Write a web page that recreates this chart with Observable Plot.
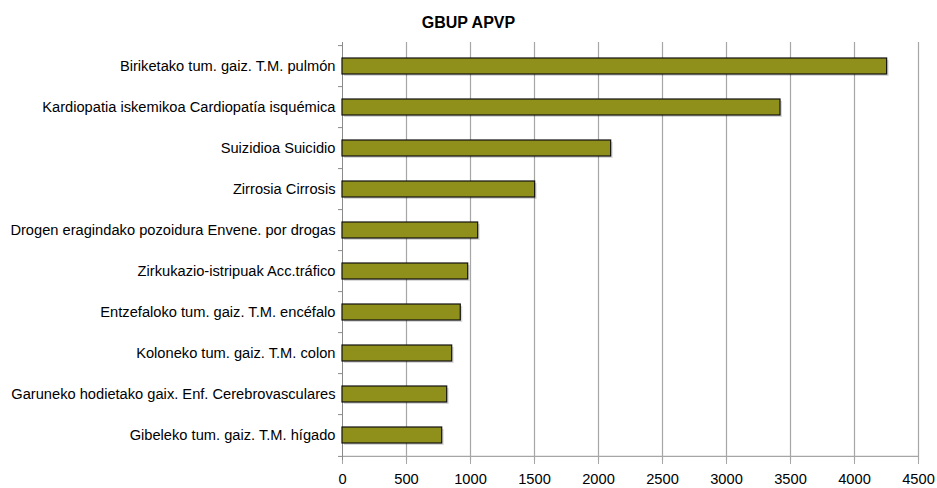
<!DOCTYPE html>
<html>
<head>
<meta charset="utf-8">
<script src="https://cdn.jsdelivr.net/npm/d3@7"></script>
<script src="https://cdn.jsdelivr.net/npm/@observablehq/plot@0.6"></script>
<style>
  html, body { margin: 0; padding: 0; background: #fff; }
  #wrap { position: relative; width: 937px; height: 488px; font-family: "Liberation Sans", Arial, sans-serif; }
  #title { position: absolute; left: 0; top: 13px; width: 937px; text-align: center; font-weight: bold; font-size: 16px; line-height: 20px; color: #000; }
  svg { display: block; }
</style>
</head>
<body>
<div id="wrap"><div id="title">GBUP APVP</div></div>
<script>
const title = "GBUP APVP";
const categories = [
  "Biriketako tum. gaiz. T.M. pulmón",
  "Kardiopatia iskemikoa Cardiopatía isquémica",
  "Suizidioa Suicidio",
  "Zirrosia Cirrosis",
  "Drogen eragindako pozoidura Envene. por drogas",
  "Zirkukazio-istripuak Acc.tráfico",
  "Entzefaloko tum. gaiz. T.M. encéfalo",
  "Koloneko tum. gaiz. T.M. colon",
  "Garuneko hodietako gaix. Enf. Cerebrovasculares",
  "Gibeleko tum. gaiz. T.M. hígado"
];
const values = [4255, 3422, 2099, 1505, 1060, 982, 924, 857, 818, 779];
const xTicks = [0, 500, 1000, 1500, 2000, 2500, 3000, 3500, 4000, 4500];

const data = categories.map((c, i) => ({category: c, value: values[i]}));
document.getElementById("title").textContent = title;

const W = 937, H = 488, mT = 42, mB = 28, mL = 342, mR = 19;
const step = (H - mT - mB) / categories.length;
const last = categories[categories.length - 1];

const chart = Plot.plot({
  width: W, height: H,
  marginTop: mT, marginBottom: mB, marginLeft: mL, marginRight: mR,
  style: {fontFamily: "'Liberation Sans', Arial, sans-serif", fontSize: "14.67px", color: "#000", background: "#fff"},
  x: {domain: [0, 4500], ticks: xTicks},
  y: {domain: categories, paddingInner: 0.6, paddingOuter: 0.3},
  marks: [
    Plot.ruleX(xTicks.filter(t => t > 0), {stroke: "#a6a6a6", strokeWidth: 1.2}),
    Plot.ruleY([last], {dy: step / 2, x1: 0, x2: 4500, stroke: "#a6a6a6", strokeWidth: 1.2}),
    Plot.ruleX([0], {stroke: "#8a8a8a", strokeWidth: 1}),
    Plot.axisX({ticks: xTicks, tickSize: 4, tickPadding: 9, tickFormat: d => String(d), stroke: "#a6a6a6", fill: "#000", fontSize: 14.67, label: null}),
    Plot.axisY({tickSize: 0, tickPadding: 7, fontSize: 14.67, fill: "#000", label: null}),
    Plot.axisY({tickSize: 4, tickFormat: () => "", dy: -step / 2, stroke: "#8a8a8a", label: null}),
    Plot.axisY({ticks: [last], tickSize: 4, tickFormat: () => "", dy: step / 2, stroke: "#8a8a8a", label: null}),
    Plot.barX(data, {y: "category", x: "value", fill: "#000", fillOpacity: 0.15, dx: 2, dy: 2}),
    Plot.barX(data, {y: "category", x: "value", fill: "#8f901b", stroke: "#111", strokeWidth: 1.2})
  ]
});
document.getElementById("wrap").appendChild(chart);
</script>
</body>
</html>
